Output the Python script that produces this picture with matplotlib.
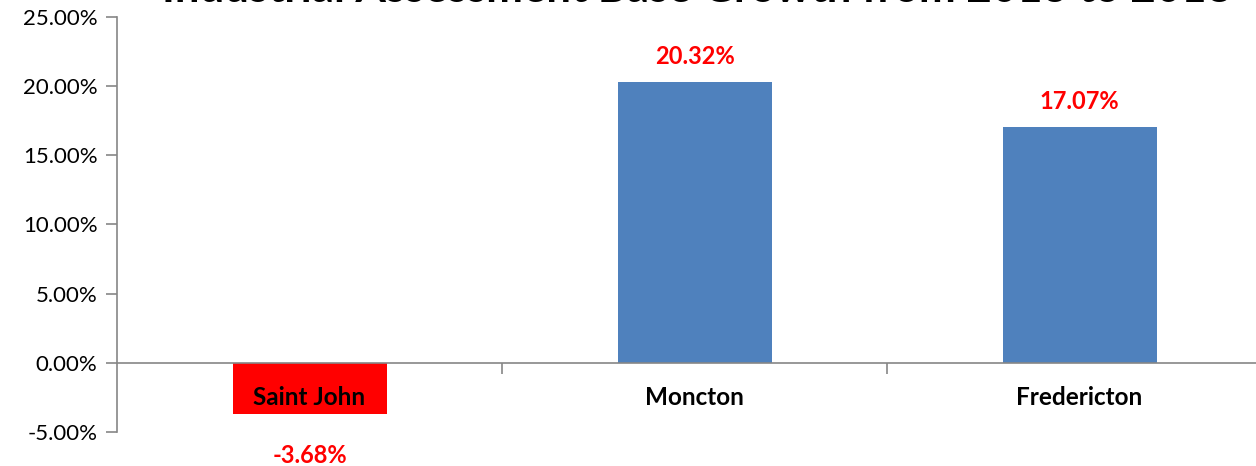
import matplotlib
matplotlib.use("Agg")
import matplotlib.pyplot as plt
from matplotlib.ticker import FuncFormatter, FixedLocator

categories = ["Saint John", "Moncton", "Fredericton"]
growth = [-3.68, 20.32, 17.07]
bar_colors = ["#FF0000", "#4F81BD", "#4F81BD"]
yticks = [-5, 0, 5, 10, 15, 20, 25]
title = "Industrial Assessment Base Growth from 2013 to 2018"

plt.rcParams['font.family'] = ['Lato', 'DejaVu Sans']

fig = plt.figure(figsize=(12.56, 4.66), dpi=100)
ax = fig.add_axes([117/1256, 1 - 432/466, (1272 - 117)/1256, 415/466])

x = list(range(len(categories)))
ax.bar(x, growth, width=0.4, color=bar_colors, zorder=1)
ax.set_axisbelow(False)

ax.set_xlim(-0.5, 2.5)
ax.set_ylim(-5, 25)
ax.set_yticks(yticks)
ax.yaxis.set_major_formatter(FuncFormatter(lambda v, p: f"{v:.2f}%"))
ax.tick_params(axis='y', labelsize=16, length=8, color='#868686', width=1.2, pad=6)

for s in ['top', 'right']:
    ax.spines[s].set_visible(False)
ax.spines['left'].set_color('#868686')
ax.spines['left'].set_linewidth(1.2)
ax.spines['bottom'].set_position(('data', 0))
ax.spines['bottom'].set_color('#868686')
ax.spines['bottom'].set_linewidth(1.2)

ax.set_xticks(x)
ax.set_xticklabels(categories, fontweight='bold', fontsize=17.5)
ax.tick_params(axis='x', which='major', length=0, pad=17)
ax.xaxis.set_minor_locator(FixedLocator([0.5, 1.5]))
ax.tick_params(axis='x', which='minor', length=8, color='#868686', width=1.2, direction='out')
ax.xaxis.set_zorder(3)

for xi, v in zip(x, growth):
    off = 18 if v >= 0 else -30
    ax.annotate(f"{v:.2f}%", (xi, v), xytext=(0, off), textcoords='offset points',
                ha='center', va='center', color='#FF0000', fontweight='bold', fontsize=17)

fig.text(697/1256, 1 - 2/466, title, ha='center', va='baseline', fontsize=31.5, fontweight='bold')

fig.savefig("out.png", dpi=100)
